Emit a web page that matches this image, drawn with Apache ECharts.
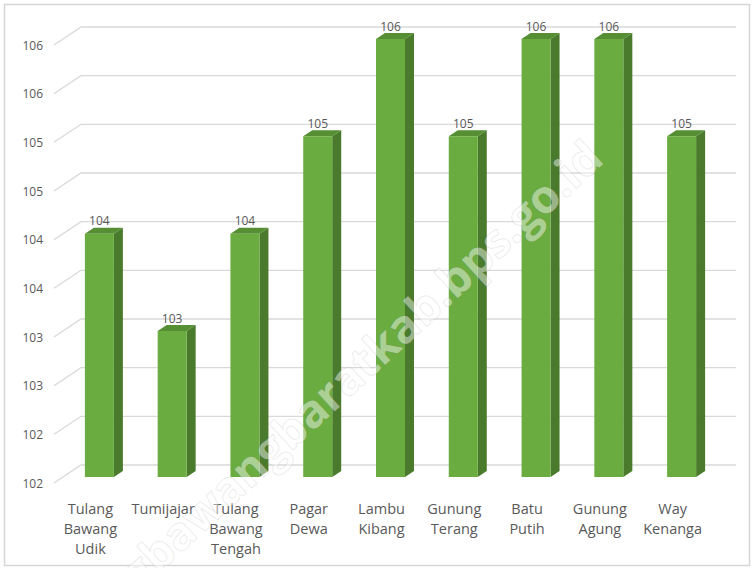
<!DOCTYPE html>
<html>
<head>
<meta charset="utf-8">
<script src="https://cdn.jsdelivr.net/npm/echarts@6/dist/echarts.min.js"></script>
<style>
  html, body { margin: 0; padding: 0; background: #fff; }
  #chart { width: 752px; height: 568px; }
</style>
</head>
<body>
<div id="chart"></div>
<script>
// Kecamatan (districts) and their index values
const districts = [
  'Tulang Bawang Udik', 'Tumijajar', 'Tulang Bawang Tengah', 'Pagar Dewa',
  'Lambu Kibang', 'Gunung Terang', 'Batu Putih', 'Gunung Agung', 'Way Kenanga'
];
const indexValues = [104, 103, 104, 105, 106, 105, 106, 106, 105];

// value axis range and step
const axisMin = 101.5;
const axisMax = 106;
const axisStep = 0.5;
const axisTicks = [101.5, 102, 102.5, 103, 103.5, 104, 104.5, 105, 105.5, 106];

// 3D look: depth offsets of the bars and the back wall
const BAR_DX = 9, BAR_DY = -6;      // bar front face shift and bar depth
const WALL_DX = 27, WALL_DY = -18;  // back wall shift from the floor front edge
const BAR_W = 29;

const FRONT = '#6aac3f';
const SIDE = '#4a7a2c';
const TOP = '#558e33';
const GRID = '#d9d9d9';
const TEXT = '#595959';

const chart = echarts.init(document.getElementById('chart'), null, { renderer: 'svg' });

function renderWall(params, api) {
  const cs = params.coordSys;
  const y = api.coord([0, api.value(0)])[1];
  return {
    type: 'polyline',
    silent: true,
    shape: {
      points: [[cs.x, y], [cs.x + WALL_DX, y + WALL_DY], [cs.x + cs.width + WALL_DX, y + WALL_DY]]
    },
    style: { stroke: GRID, lineWidth: 1.3, fill: null }
  };
}

function renderBar(params, api) {
  const idx = api.value(0);
  const val = api.value(1);
  const top = api.coord([idx, val]);
  const base = api.coord([idx, axisMin]);
  const cx = top[0] + BAR_DX;
  const L = cx - BAR_W / 2, R = cx + BAR_W / 2;
  const yt = top[1] + BAR_DY, yb = base[1] + BAR_DY;
  return {
    type: 'group',
    children: [
      { type: 'polygon', shape: { points: [[R, yt], [R + BAR_DX, yt + BAR_DY], [R + BAR_DX, yb + BAR_DY], [R, yb]] },
        style: { fill: SIDE } },
      { type: 'polygon', shape: { points: [[L, yt], [L + BAR_DX, yt + BAR_DY], [R + BAR_DX, yt + BAR_DY], [R, yt]] },
        style: { fill: TOP } },
      { type: 'rect', shape: { x: L, y: yt, width: BAR_W, height: yb - yt },
        style: { fill: FRONT } },
      { type: 'text', x: cx, y: yt - 13,
        style: { text: String(Math.round(val)), fill: TEXT, font: '12px "Open Sans", sans-serif',
                 align: 'center', verticalAlign: 'middle' } }
    ]
  };
}

chart.setOption({
  animation: false,
  backgroundColor: '#fff',
  grid: { left: 54, right: 43, top: 45, bottom: 85, containLabel: false },
  xAxis: {
    type: 'category',
    data: districts,
    axisLine: { show: false },
    axisTick: { show: false },
    splitLine: { show: false },
    axisLabel: {
      interval: 0,
      margin: 15,
      color: TEXT,
      fontFamily: 'Open Sans',
      fontSize: 14.5,
      lineHeight: 20,
      formatter: v => v.split(' ').join('\n')
    }
  },
  yAxis: {
    type: 'value',
    min: axisMin,
    max: axisMax,
    interval: axisStep,
    axisLine: { show: false },
    axisTick: { show: false },
    splitLine: { show: false },
    axisLabel: {
      margin: 11,
      color: TEXT,
      fontFamily: 'Open Sans',
      fontSize: 12,
      formatter: v => String(Math.round(v))
    }
  },
  graphic: [
    { type: 'rect', z: -10, shape: { x: 4.5, y: 4.5, width: 745, height: 561 },
      style: { fill: null, stroke: '#d6d6d6', lineWidth: 1.5 } },
    { type: 'text', z: 100, x: 315, y: 405, rotation: Math.PI * 42.7 / 180,
      style: { text: 'tulangbawangbaratkab.bps.go.id', font: 'bold 46px "Open Sans", sans-serif',
               align: 'center', verticalAlign: 'middle',
               fill: 'rgba(255,255,255,0.45)', stroke: 'rgba(140,140,140,0.22)', lineWidth: 1 } }
  ],
  series: [
    {
      type: 'custom',
      z: 1,
      renderItem: renderWall,
      data: axisTicks.map(t => [t]),
      encode: { y: 0 }
    },
    {
      type: 'custom',
      z: 2,
      renderItem: renderBar,
      data: indexValues.map((v, i) => [i, v]),
      encode: { x: 0, y: 1 }
    }
  ]
});
</script>
</body>
</html>
